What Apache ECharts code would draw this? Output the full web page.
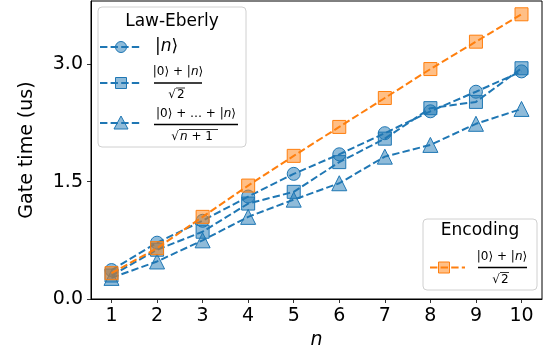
<!DOCTYPE html>
<html>
<head>
<meta charset="utf-8">
<script src="https://cdn.jsdelivr.net/npm/echarts@6/dist/echarts.min.js"></script>
<style>
  html, body { margin: 0; padding: 0; background: #fff; }
  #chart { width: 551px; height: 360px; }
</style>
</head>
<body>
<div id="chart"></div>
<script>
// values
var nValues = [1, 2, 3, 4, 5, 6, 7, 8, 9, 10];
var lawN = [0.37, 0.72, 1.00, 1.31, 1.60, 1.85, 2.12, 2.40, 2.65, 2.91];
var lawSuper = [0.30, 0.63, 0.86, 1.22, 1.37, 1.75, 2.05, 2.44, 2.52, 2.95];
var lawAll = [0.27, 0.48, 0.75, 1.05, 1.27, 1.48, 1.82, 1.97, 2.24, 2.43];
var encSuper = [0.33, 0.65, 1.05, 1.45, 1.83, 2.20, 2.57, 2.94, 3.29, 3.64];
var yTicks = [0, 1.5, 3.0];

var FONT = 'DejaVu Sans';
var BLUE = '#1f77b4', BLUE_F = 'rgba(31,119,180,0.5)';
var ORANGE = '#ff7f0e', ORANGE_F = 'rgba(255,127,14,0.5)';
var DASH = [7.4, 3.2];

var myChart = echarts.init(document.getElementById('chart'));

function pairs(ys) {
  return nValues.map(function (n, i) { return [n, ys[i]]; });
}

function mkSeries(name, ys, symbol, size, col, fill, z) {
  return {
    name: name,
    type: 'line',
    data: pairs(ys),
    symbol: symbol,
    symbolSize: size,
    z: z,
    lineStyle: { color: col, width: 2, type: DASH },
    itemStyle: { color: fill, borderColor: col, borderWidth: 1 }
  };
}

var rich = {
  i: { fontStyle: 'italic', fontFamily: FONT, fontSize: 12, fill: '#000' }
};
var richBig = {
  i: { fontStyle: 'italic', fontFamily: FONT, fontSize: 17, fill: '#000' }
};

function txt(x, y, text, size, align, r) {
  return {
    type: 'text', x: x, y: y, z: 101,
    style: {
      text: text, fill: '#000', font: size + 'px "' + FONT + '"',
      align: align || 'center', verticalAlign: 'middle', rich: r || rich
    }
  };
}
function seg(x1, y1, x2, y2, col, w, dash) {
  return {
    type: 'line', z: 101,
    shape: { x1: x1, y1: y1, x2: x2, y2: y2 },
    style: { stroke: col, lineWidth: w, lineDash: dash || null }
  };
}
// fraction: numerator text, bar, sqrt denominator
function frac(cx, cy, barL, barR, num, rad, radW) {
  var out = [];
  out.push(txt(cx, cy - 11, num, 12));
  out.push(seg(barL, cy, barR, cy, '#000', 1.4));
  var rx = cx - radW / 2 + 4;
  out.push(txt(rx, cy + 12, '√', 12, 'right'));
  out.push(txt(rx + 1, cy + 12, rad, 12, 'left'));
  out.push(seg(rx, cy + 5, rx + radW - 3, cy + 5, '#000', 0.8));
  return out;
}

var graphics = [];
// Law-Eberly legend
graphics.push({
  type: 'rect', z: 100,
  shape: { x: 98, y: 7, width: 148, height: 140, r: 4 },
  style: { fill: 'rgba(255,255,255,0.8)', stroke: '#d0d0d0', lineWidth: 1 }
});
graphics.push(txt(172, 22, 'Law-Eberly', 17));
var rows = [47, 83, 123];
rows.forEach(function (y) {
  graphics.push(seg(100, y, 142, y, BLUE, 2, DASH));
});
graphics.push({ type: 'circle', z: 101, shape: { cx: 121, cy: rows[0], r: 5.5 },
  style: { fill: BLUE_F, stroke: BLUE, lineWidth: 1 } });
graphics.push({ type: 'rect', z: 101, shape: { x: 115.5, y: rows[1] - 5.5, width: 11, height: 11 },
  style: { fill: BLUE_F, stroke: BLUE, lineWidth: 1 } });
graphics.push({ type: 'polygon', z: 101,
  shape: { points: [[121, rows[2] - 7], [114, rows[2] + 6], [128, rows[2] + 6]] },
  style: { fill: BLUE_F, stroke: BLUE, lineWidth: 1 } });
graphics.push(txt(155, rows[0], '|{i|n}⟩', 17, 'left', richBig));
graphics = graphics.concat(frac(178, 83, 154, 202, '|0⟩ + |{i|n}⟩', '2', 12));
graphics = graphics.concat(frac(196, 124.5, 154, 238, '|0⟩ + … + |{i|n}⟩', '{i|n} + 1', 42));

// Encoding legend
graphics.push({
  type: 'rect', z: 100,
  shape: { x: 423, y: 219, width: 114, height: 71, r: 4 },
  style: { fill: 'rgba(255,255,255,0.8)', stroke: '#d0d0d0', lineWidth: 1 }
});
graphics.push(txt(480, 231, 'Encoding', 17));
graphics.push(seg(430, 267.5, 465, 267.5, ORANGE, 2, DASH));
graphics.push({ type: 'rect', z: 101, shape: { x: 438.5, y: 262, width: 11, height: 11 },
  style: { fill: ORANGE_F, stroke: ORANGE, lineWidth: 1 } });
graphics = graphics.concat(frac(502, 267.5, 478, 527, '|0⟩ + |{i|n}⟩', '2', 12));

var option = {
  animation: false,
  backgroundColor: '#fff',
  grid: {
    left: 91, right: 9, top: 1, bottom: 61,
    show: true, borderColor: '#000', borderWidth: 1, backgroundColor: 'transparent'
  },
  xAxis: {
    type: 'value',
    min: 0.55, max: 10.45,
    name: 'n',
    nameLocation: 'middle',
    nameGap: 32,
    nameTextStyle: { fontFamily: FONT, fontSize: 19, fontStyle: 'italic', color: '#000' },
    axisLine: { show: true, lineStyle: { color: '#000', width: 1 } },
    axisTick: { show: true, length: 4, lineStyle: { color: '#000', width: 0.8 }, customValues: nValues },
    axisLabel: {
      show: true, margin: 8, fontFamily: FONT, fontSize: 19, color: '#000',
      customValues: nValues, formatter: function (v) { return String(v); }
    },
    splitLine: { show: false }
  },
  yAxis: {
    type: 'value',
    min: 0, max: 3.81,
    name: 'Gate time (us)',
    nameLocation: 'middle',
    nameGap: 54,
    nameTextStyle: { fontFamily: FONT, fontSize: 19, color: '#000' },
    axisLine: { show: true, lineStyle: { color: '#000', width: 1 } },
    axisTick: { show: true, length: 4, lineStyle: { color: '#000', width: 0.8 }, customValues: yTicks },
    axisLabel: {
      show: true, margin: 8, fontFamily: FONT, fontSize: 19, color: '#000',
      customValues: yTicks, formatter: function (v) { return v.toFixed(1); }
    },
    splitLine: { show: false }
  },
  series: [
    mkSeries('|n>', lawN, 'circle', 13, BLUE, BLUE_F, 2),
    mkSeries('(|0>+|n>)/sqrt2', lawSuper, 'rect', 13, BLUE, BLUE_F, 3),
    mkSeries('(|0>+...+|n>)/sqrt(n+1)', lawAll, 'triangle', 15, BLUE, BLUE_F, 4),
    mkSeries('Encoding', encSuper, 'rect', 13, ORANGE, ORANGE_F, 5)
  ],
  graphic: { elements: graphics }
};

myChart.setOption(option);
</script>
</body>
</html>
